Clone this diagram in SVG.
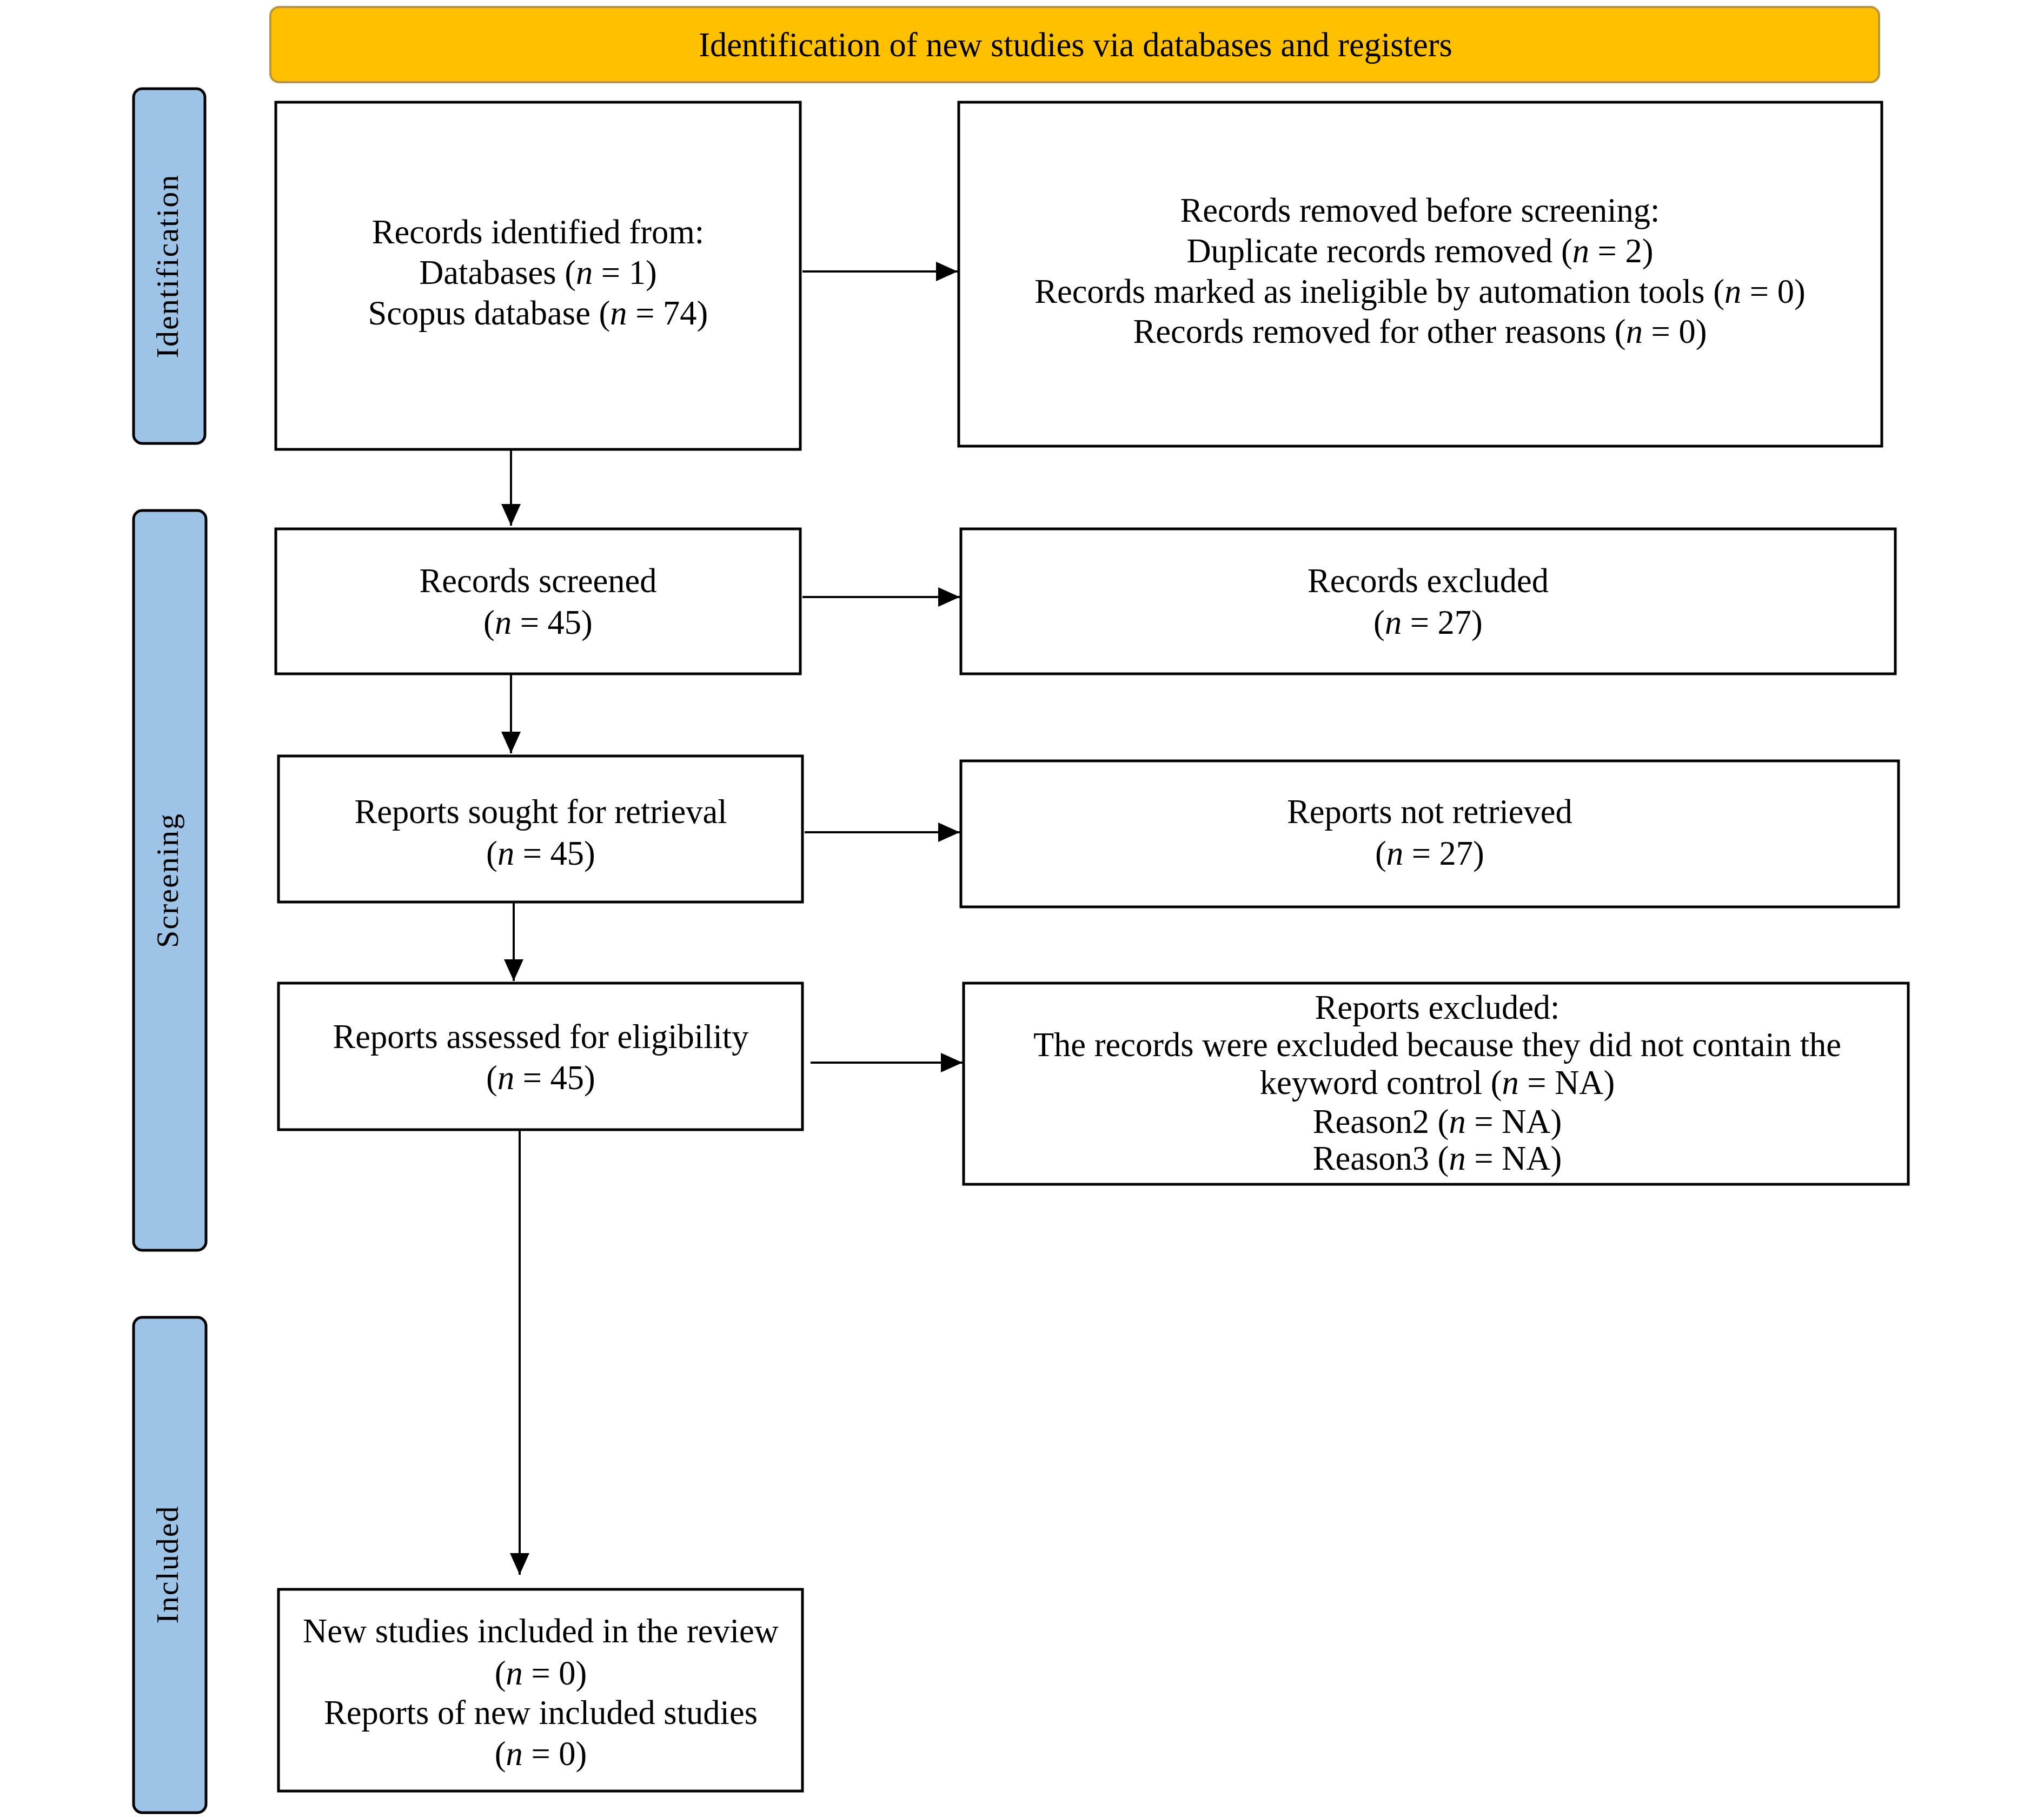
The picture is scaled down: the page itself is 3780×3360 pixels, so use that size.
<svg xmlns="http://www.w3.org/2000/svg" width="3780" height="3360" viewBox="0 0 3780 3360">
<defs>
<style>
.box{fill:#ffffff;stroke:#000000;stroke-width:5}
.side{fill:#9DC3E6;stroke:#000000;stroke-width:5}
.hdr{fill:#FFC000;stroke:#B8953A;stroke-width:4}
.t{font-family:"Liberation Serif","Times New Roman",serif;font-size:62.5px;fill:#000000;text-anchor:middle}
.s{font-family:"Liberation Serif","Times New Roman",serif;font-size:58px;fill:#000000;text-anchor:middle;letter-spacing:2px}
.i{font-style:italic}
.c{fill:none;stroke:#000000;stroke-width:4}
</style>
<marker id="ah" markerUnits="userSpaceOnUse" markerWidth="42" markerHeight="38" refX="40" refY="18" orient="auto">
<path d="M0,0 L40,18 L0,36 Z" fill="#000000"/>
</marker>
</defs>
<rect width="3780" height="3360" fill="#ffffff"/>

<g id="header">
<rect class="hdr" x="500" y="13" width="2975" height="139" rx="16" ry="16"/>
<text class="t" x="1989" y="104">Identification of new studies via databases and registers</text>
</g>

<g id="side-identification">
<rect class="side" x="247" y="164" width="132" height="656" rx="16" ry="16"/>
<text class="s" transform="translate(329,492) rotate(-90)">Identification</text>
</g>
<g id="side-screening">
<rect class="side" x="247" y="944" width="134" height="1368" rx="16" ry="16"/>
<text class="s" transform="translate(329,1628) rotate(-90)">Screening</text>
</g>
<g id="side-included">
<rect class="side" x="247" y="2436" width="134" height="916" rx="16" ry="16"/>
<text class="s" transform="translate(329,2893) rotate(-90)">Included</text>
</g>

<g id="records-identified">
<rect class="box" x="510" y="189" width="970" height="642"/>
<text class="t" x="995" y="450">Records identified from:</text>
<text class="t" x="995" y="525">Databases (<tspan class="i">n</tspan> = 1)</text>
<text class="t" x="995" y="600">Scopus database (<tspan class="i">n</tspan> = 74)</text>
</g>

<g id="records-removed">
<rect class="box" x="1773" y="189" width="1707" height="636"/>
<text class="t" x="2626" y="410">Records removed before screening:</text>
<text class="t" x="2626" y="485">Duplicate records removed (<tspan class="i">n</tspan> = 2)</text>
<text class="t" x="2626" y="560">Records marked as ineligible by automation tools (<tspan class="i">n</tspan> = 0)</text>
<text class="t" x="2626" y="634">Records removed for other reasons (<tspan class="i">n</tspan> = 0)</text>
</g>

<g id="records-screened">
<rect class="box" x="510" y="978" width="970" height="268"/>
<text class="t" x="995" y="1095">Records screened</text>
<text class="t" x="995" y="1172">(<tspan class="i">n</tspan> = 45)</text>
</g>

<g id="records-excluded">
<rect class="box" x="1777" y="978" width="1728" height="268"/>
<text class="t" x="2641" y="1095">Records excluded</text>
<text class="t" x="2641" y="1172">(<tspan class="i">n</tspan> = 27)</text>
</g>

<g id="reports-sought">
<rect class="box" x="515" y="1398" width="969" height="270"/>
<text class="t" x="1000" y="1522">Reports sought for retrieval</text>
<text class="t" x="1000" y="1599">(<tspan class="i">n</tspan> = 45)</text>
</g>

<g id="reports-not-retrieved">
<rect class="box" x="1777" y="1407" width="1734" height="270"/>
<text class="t" x="2644" y="1522">Reports not retrieved</text>
<text class="t" x="2644" y="1599">(<tspan class="i">n</tspan> = 27)</text>
</g>

<g id="reports-assessed">
<rect class="box" x="515" y="1818" width="969" height="271"/>
<text class="t" x="1000" y="1938">Reports assessed for eligibility</text>
<text class="t" x="1000" y="2014">(<tspan class="i">n</tspan> = 45)</text>
</g>

<g id="reports-excluded">
<rect class="box" x="1782" y="1818" width="1747" height="372"/>
<text class="t" x="2658" y="1884">Reports excluded:</text>
<text class="t" x="2658" y="1953">The records were excluded because they did not contain the</text>
<text class="t" x="2658" y="2023">keyword control (<tspan class="i">n</tspan> = NA)</text>
<text class="t" x="2658" y="2095">Reason2 (<tspan class="i">n</tspan> = NA)</text>
<text class="t" x="2658" y="2163">Reason3 (<tspan class="i">n</tspan> = NA)</text>
</g>

<g id="studies-included">
<rect class="box" x="515" y="2939" width="969" height="373"/>
<text class="t" x="1000" y="3037">New studies included in the review</text>
<text class="t" x="1000" y="3115">(<tspan class="i">n</tspan> = 0)</text>
<text class="t" x="1000" y="3188">Reports of new included studies</text>
<text class="t" x="1000" y="3264">(<tspan class="i">n</tspan> = 0)</text>
</g>

<g id="connectors">
<line class="c" x1="1484" y1="502" x2="1771" y2="502" marker-end="url(#ah)"/>
<line class="c" x1="945" y1="833" x2="945" y2="972" marker-end="url(#ah)"/>
<line class="c" x1="1484" y1="1104" x2="1775" y2="1104" marker-end="url(#ah)"/>
<line class="c" x1="945" y1="1248" x2="945" y2="1393" marker-end="url(#ah)"/>
<line class="c" x1="1488" y1="1539" x2="1775" y2="1539" marker-end="url(#ah)"/>
<line class="c" x1="950" y1="1670" x2="950" y2="1814" marker-end="url(#ah)"/>
<line class="c" x1="1499" y1="1965" x2="1780" y2="1965" marker-end="url(#ah)"/>
<line class="c" x1="961" y1="2091" x2="961" y2="2912" marker-end="url(#ah)"/>
</g>
</svg>
